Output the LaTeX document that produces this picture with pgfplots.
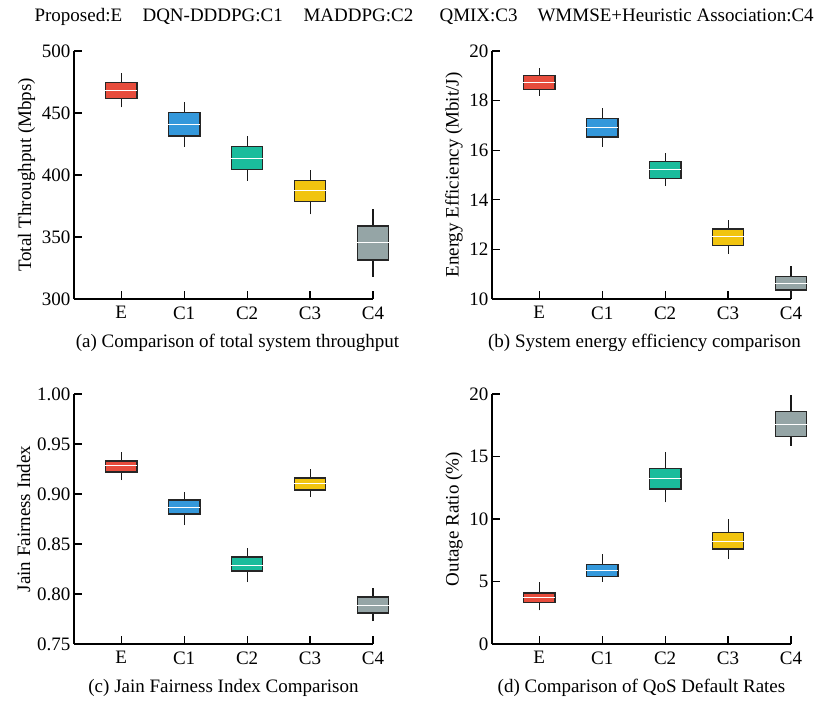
\documentclass[border=0pt]{standalone}
\usepackage{fontspec}
\setmainfont{Liberation Serif}
\usepackage{pgfplots}
\pgfplotsset{compat=1.18}

\definecolor{cE}{HTML}{E74C3C}
\definecolor{cA}{HTML}{3498DB}
\definecolor{cB}{HTML}{1ABC9C}
\definecolor{cC}{HTML}{F1C40F}
\definecolor{cD}{HTML}{95A5A6}

\newcommand\fs{\fontsize{19}{22}\selectfont}

\pgfplotsset{panel/.style={
  scale only axis, width=299pt, height=248pt, anchor=south west,
  axis lines=left, axis line style={-, line width=1.4pt},
  xmin=-0.75, xmax=4, xtick={0,...,4}, xticklabels={E,C1,C2,C3,C4},
  tick style={black, line width=1.2pt}, major tick length=8pt, tick align=inside,
  clip=false,
  ticklabel style={font=\fs}, label style={font=\fs},
  xticklabel style={yshift=-4pt}, xlabel style={yshift=-8pt},
  /pgf/number format/assume math mode=true,
}}

% left, centre, right, colour, lower whisker, lower quartile, median, upper quartile, upper whisker
\newcommand\bx[9]{%
  \addplot[black!90, line width=1.1pt] coordinates {(#2,#5) (#2,#6)};
  \addplot[black!90, line width=1.1pt] coordinates {(#2,#8) (#2,#9)};
  \addplot[fill=#4, draw=black!85, line width=1.3pt] coordinates {(#1,#6) (#3,#6) (#3,#8) (#1,#8) (#1,#6)};
  \addplot[white, line width=1pt] coordinates {(#1,#7) (#3,#7)};
}

\begin{document}
\begin{tikzpicture}

\begin{scope}[font=\fs]
\node[anchor=base west] at (31pt,683pt) {Proposed:E};
\node[anchor=base west] at (139pt,683pt) {DQN-DDDPG:C1};
\node[anchor=base west] at (300pt,683pt) {MADDPG:C2};
\node[anchor=base west] at (436pt,683pt) {QMIX:C3};
\node[anchor=base west] at (534pt,683pt) {WMMSE+Heuristic Association:C4};
\end{scope}

% (a) throughput
\begin{axis}[panel, at={(74pt,406pt)}, ymin=300, ymax=500, ytick={300,350,...,500},
  ylabel={Total Throughput (Mbps)},
  xlabel={(a) Comparison of total system throughput}, xlabel style={xshift=14pt}]
\bx{-0.25}{0}{0.25}{cE}{454.6}{461.8}{468.3}{474.8}{482.0}
\bx{0.75}{1}{1.25}{cA}{422.8}{431.5}{440.9}{450.2}{459.0}
\bx{1.75}{2}{2.25}{cB}{395.4}{404.3}{413.7}{422.8}{431.5}
\bx{2.75}{3}{3.25}{cC}{368.3}{378.5}{387.1}{395.4}{404.0}
\bx{3.75}{4}{4.25}{cD}{318.0}{331.5}{345.2}{358.9}{372.3}
\end{axis}

% (b) energy efficiency
\begin{axis}[panel, at={(492pt,406pt)}, ymin=10, ymax=20, ytick={10,12,...,20},
  ylabel={Energy Efficiency (Mbit/J)},
  xlabel={(b) System energy efficiency comparison}, xlabel style={xshift=3pt}]
\bx{-0.25}{0}{0.25}{cE}{18.19}{18.44}{18.73}{19.01}{19.30}
\bx{0.75}{1}{1.25}{cA}{16.14}{16.53}{16.91}{17.27}{17.71}
\bx{1.75}{2}{2.25}{cB}{14.55}{14.87}{15.23}{15.54}{15.89}
\bx{2.75}{3}{3.25}{cC}{11.83}{12.16}{12.50}{12.82}{13.17}
\bx{3.75}{4}{4.25}{cD}{10.04}{10.36}{10.64}{10.91}{11.35}
\end{axis}

% (c) fairness
\begin{axis}[panel, at={(74pt,61pt)}, height=250pt, ymin=0.75, ymax=1.0,
  ytick={0.75,0.80,...,1.0},
  yticklabel style={/pgf/number format/.cd, fixed, fixed zerofill, precision=2},
  ylabel={Jain Fairness Index},
  xlabel={(c) Jain Fairness Index Comparison}]
\bx{-0.25}{0}{0.25}{cE}{0.914}{0.922}{0.929}{0.933}{0.942}
\bx{0.75}{1}{1.25}{cA}{0.869}{0.880}{0.887}{0.894}{0.902}
\bx{1.75}{2}{2.25}{cB}{0.812}{0.823}{0.829}{0.837}{0.846}
\bx{2.75}{3}{3.25}{cC}{0.897}{0.904}{0.911}{0.916}{0.925}
\bx{3.75}{4}{4.25}{cD}{0.773}{0.781}{0.789}{0.797}{0.806}
\end{axis}

% (d) outage
\begin{axis}[panel, at={(492pt,61pt)}, height=250pt, ymin=0, ymax=20, ytick={0,5,...,20},
  ylabel={Outage Ratio (\%)},
  xlabel={(d) Comparison of QoS Default Rates}]
\bx{-0.25}{0}{0.25}{cE}{2.70}{3.32}{3.69}{4.09}{4.95}
\bx{0.75}{1}{1.25}{cA}{4.97}{5.40}{5.86}{6.36}{7.22}
\bx{1.75}{2}{2.25}{cB}{11.34}{12.41}{13.24}{14.06}{15.37}
\bx{2.75}{3}{3.25}{cC}{6.79}{7.59}{8.18}{8.90}{9.97}
\bx{3.75}{4}{4.25}{cD}{15.88}{16.60}{17.57}{18.58}{19.95}
\end{axis}

\path (0pt,0pt) rectangle (821pt,705pt);
\end{tikzpicture}
\end{document}
